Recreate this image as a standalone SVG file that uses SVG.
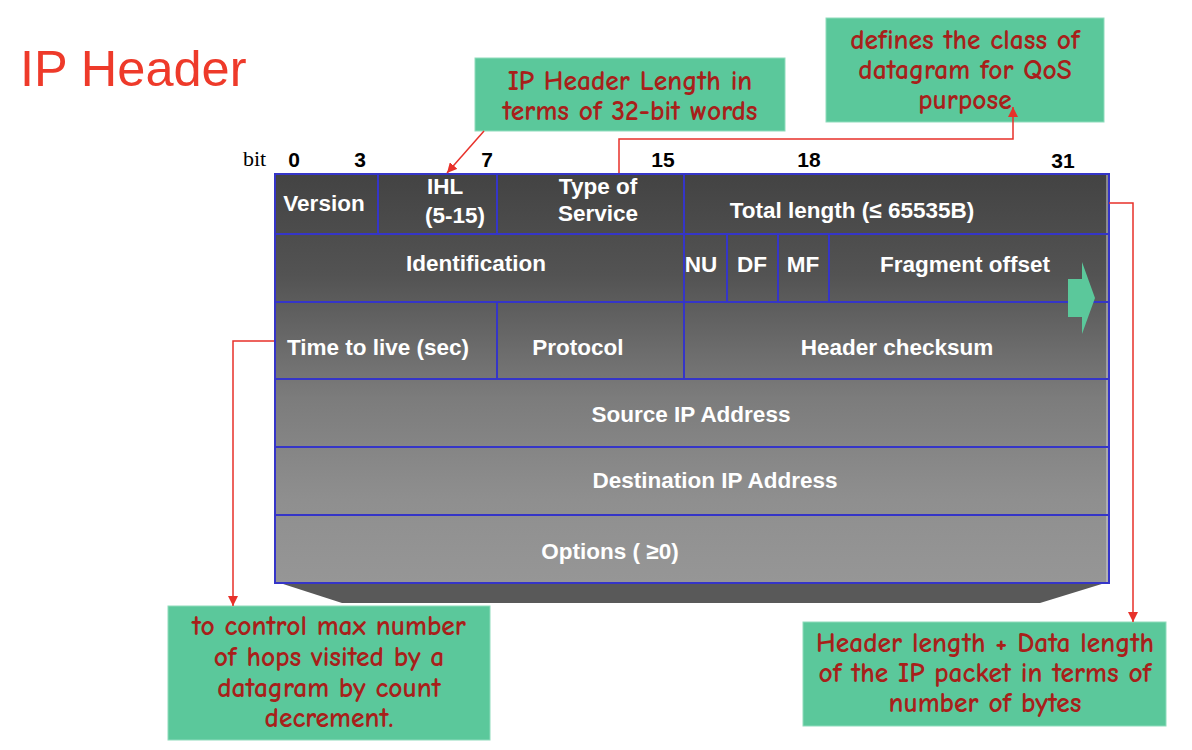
<svg xmlns="http://www.w3.org/2000/svg" width="1192" height="750" viewBox="0 0 1192 750">
<defs>
<linearGradient id="tbl" x1="0" y1="173" x2="0" y2="583" gradientUnits="userSpaceOnUse">
<stop offset="0" stop-color="#434343"/>
<stop offset="0.25" stop-color="#535353"/>
<stop offset="0.55" stop-color="#7c7c7c"/>
<stop offset="0.8" stop-color="#8f8f8f"/>
<stop offset="1" stop-color="#969696"/>
</linearGradient>
<marker id="ah" viewBox="0 0 10 10" refX="10" refY="5" markerWidth="10" markerHeight="10" markerUnits="userSpaceOnUse" orient="auto">
<path d="M0,0 L10,5 L0,10 z" fill="#e8312a"/>
</marker>
<style>
.cell{font-family:"Liberation Sans",Arial,sans-serif;font-weight:bold;font-size:22.5px;fill:#ffffff;text-anchor:middle}
.bitn{font-family:"Liberation Sans",Arial,sans-serif;font-weight:bold;font-size:21px;fill:#000000;text-anchor:middle}
.grid{stroke:#3535c8;stroke-width:2;fill:none}
.box{fill:#5bc89b;stroke:#8fdcbc;stroke-width:1}
.note{font-family:"Comic Sans MS","Comic Neue","Liberation Sans",sans-serif;font-weight:bold;font-size:27.5px;fill:#a8201a;text-anchor:middle}
.conn{stroke:#e8312a;stroke-width:1.5;fill:none}
</style>
</defs>
<rect width="1192" height="750" fill="#ffffff"/>
<text x="20" y="86" font-family="'Liberation Sans',Arial,sans-serif" font-size="50.5" fill="#ee3a2a">IP Header</text>

<g id="bit-scale">
<text x="243" y="166" font-family="'Liberation Serif','Times New Roman',serif" font-size="22" fill="#000">bit</text>
<text class="bitn" x="294" y="167">0</text>
<text class="bitn" x="360" y="167">3</text>
<text class="bitn" x="487" y="167">7</text>
<text class="bitn" x="663" y="167">15</text>
<text class="bitn" x="809" y="167">18</text>
<text class="bitn" x="1063" y="168">31</text>
</g>

<g id="header-table">
<polygon points="280,583 1105,583 1040,603 342,603" fill="#595959"/>
<rect x="274" y="173" width="835" height="410" fill="url(#tbl)"/>
<line x1="1107" y1="174" x2="1107" y2="582" stroke="#cfcfcf" stroke-width="1"/>
<rect class="grid" x="275" y="174" width="834" height="409"/>
<line class="grid" x1="275" y1="234" x2="1109" y2="234"/>
<line class="grid" x1="275" y1="302" x2="1109" y2="302"/>
<line class="grid" x1="275" y1="379" x2="1109" y2="379"/>
<line class="grid" x1="275" y1="447" x2="1109" y2="447"/>
<line class="grid" x1="275" y1="515" x2="1109" y2="515"/>
<line class="grid" x1="378" y1="174" x2="378" y2="234"/>
<line class="grid" x1="497" y1="174" x2="497" y2="234"/>
<line class="grid" x1="684" y1="174" x2="684" y2="379"/>
<line class="grid" x1="727" y1="234" x2="727" y2="302"/>
<line class="grid" x1="778" y1="234" x2="778" y2="302"/>
<line class="grid" x1="829" y1="234" x2="829" y2="302"/>
<line class="grid" x1="497" y1="302" x2="497" y2="379"/>
<polygon points="1068,279 1082,279 1082,262 1095,298 1082,334 1082,317 1068,317" fill="#5bc89b"/>
</g>

<g id="field-version"><text class="cell" x="324" y="211">Version</text></g>
<g id="field-ihl"><text class="cell" x="445" y="194">IHL</text><text class="cell" x="455" y="223">(5-15)</text></g>
<g id="field-tos"><text class="cell" x="598" y="194">Type of</text><text class="cell" x="598" y="221">Service</text></g>
<g id="field-total-length"><text class="cell" x="852" y="218">Total length (≤ 65535B)</text></g>
<g id="field-identification"><text class="cell" x="476" y="271">Identification</text></g>
<g id="field-nu"><text class="cell" x="701" y="272">NU</text></g>
<g id="field-df"><text class="cell" x="752" y="272">DF</text></g>
<g id="field-mf"><text class="cell" x="803" y="272">MF</text></g>
<g id="field-fragment-offset"><text class="cell" x="965" y="272">Fragment offset</text></g>
<g id="field-ttl"><text class="cell" x="378" y="355">Time to live (sec)</text></g>
<g id="field-protocol"><text class="cell" x="578" y="355">Protocol</text></g>
<g id="field-checksum"><text class="cell" x="897" y="355">Header checksum</text></g>
<g id="field-source"><text class="cell" x="691" y="422">Source IP Address</text></g>
<g id="field-destination"><text class="cell" x="715" y="488">Destination IP Address</text></g>
<g id="field-options"><text class="cell" x="610" y="559">Options ( ≥0)</text></g>

<g id="note-ihl">
<rect class="box" x="475" y="58" width="310" height="73"/>
<text class="note" x="630" y="90">IP Header Length in</text>
<text class="note" x="630" y="120">terms of 32-bit words</text>
</g>
<g id="note-tos">
<rect class="box" x="826" y="18" width="278" height="104"/>
<text class="note" x="965" y="49">defines the class of</text>
<text class="note" x="965" y="79">datagram for QoS</text>
<text class="note" x="965" y="109">purpose</text>
</g>
<g id="note-ttl">
<rect class="box" x="168" y="606" width="322" height="134"/>
<text class="note" x="329" y="635">to control max number</text>
<text class="note" x="329" y="666">of hops visited by a</text>
<text class="note" x="329" y="697">datagram by count</text>
<text class="note" x="329" y="727">decrement.</text>
</g>
<g id="note-total">
<rect class="box" x="803" y="622" width="363" height="104"/>
<text class="note" x="985" y="652">Header length + Data length</text>
<text class="note" x="985" y="682">of the IP packet in terms of</text>
<text class="note" x="985" y="712">number of bytes</text>
</g>

<g id="connectors">
<path class="conn" d="M484,131 L447,173" marker-end="url(#ah)"/>
<path class="conn" d="M619,173 V139 H1013 V107" marker-end="url(#ah)"/>
<path class="conn" d="M274,341 H233 V606" marker-end="url(#ah)"/>
<path class="conn" d="M1109,203 H1133 V622" marker-end="url(#ah)"/>
</g>
</svg>
